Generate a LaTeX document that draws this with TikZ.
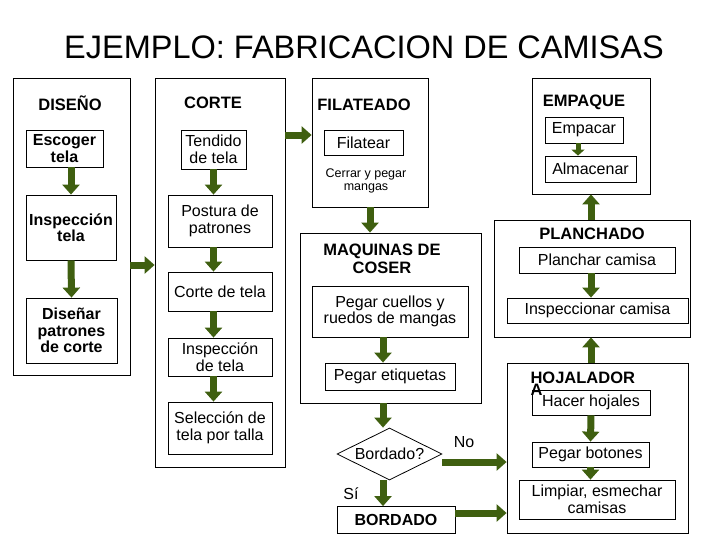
\documentclass[tikz,border=0pt]{standalone}
\usepackage{fontspec}
\setmainfont{Liberation Sans}
\usetikzlibrary{arrows.meta,shapes.geometric}
\definecolor{ag}{HTML}{3F5F10}
\begin{document}
\begin{tikzpicture}[x=1pt,y=-1pt,
  box/.style={draw,thick,align=center,inner sep=0pt,font=\fontsize{16}{16.5}\selectfont},
  bbox/.style={box,font=\bfseries\fontsize{16}{16.5}\selectfont},
  cont/.style={draw,thick,inner sep=0pt},
  lab/.style={font=\bfseries\fontsize{16.5}{18}\selectfont,align=center},
  ba/.style={draw=ag!70!black,line width=7pt,-{Triangle[width=17pt,length=10pt]},color=ag}]
\useasboundingbox (0,0) rectangle (728,546);
\node[font=\fontsize{32.5}{34}\selectfont] (title) at (364,47) {EJEMPLO: FABRICACION DE CAMISAS};
% containers
\node[cont,minimum width=117pt,minimum height=297pt] (dis) at (71.5,226.5) {};
\node[cont,minimum width=130pt,minimum height=389pt] (cor) at (220,272.5) {};
\node[cont,minimum width=116pt,minimum height=129pt] (fil) at (370,142.5) {};
\node[cont,minimum width=181pt,minimum height=170pt] (maq) at (390.5,318) {};
\node[cont,minimum width=118pt,minimum height=116pt] (emp) at (591,136) {};
\node[cont,minimum width=196pt,minimum height=117pt] (pla) at (592,278.5) {};
\node[cont,minimum width=181pt,minimum height=170pt] (hoj) at (597.5,448) {};
% labels
\node[lab] (l1) at (70,103) {DISEÑO};
\node[lab] (l2) at (213,103) {CORTE};
\node[lab] (l3) at (364,105) {FILATEADO};
\node[lab] (l4) at (382,259) {MAQUINAS DE\\COSER};
\node[lab] (l5) at (584,102) {EMPAQUE};
\node[lab] (l6) at (592,234) {PLANCHADO};
\node[lab,align=left,anchor=north west] (l7) at (527,368) {HOJALADOR\\[-6pt]A};
% DISEÑO
\node[bbox,minimum width=77pt,minimum height=37pt] (esc) at (64.5,148.5) {Escoger\\tela};
\node[bbox,minimum width=90pt,minimum height=65pt] (ins) at (71,227.5) {Inspección\\tela};
\node[bbox,minimum width=91pt,minimum height=65pt] (dsn) at (71.5,330.5) {Diseñar\\patrones\\de corte};
% CORTE
\node[box,minimum width=65pt,minimum height=39pt] (ten) at (213.5,149.5) {Tendido\\de tela};
\node[box,minimum width=104pt,minimum height=52pt] (pos) at (220,221) {Postura de\\patrones};
\node[box,minimum width=104pt,minimum height=39pt] (ctl) at (220,291.5) {Corte de tela};
\node[box,minimum width=104pt,minimum height=38pt] (ict) at (220,357) {Inspección\\de tela};
\node[box,minimum width=104pt,minimum height=52pt] (sel) at (220,428) {Selección de\\tela por talla};
% FILATEADO
\node[box,minimum width=79pt,minimum height=25pt] (flt) at (363.5,142.5) {Filatear};
\node[font=\fontsize{12.5}{13.5}\selectfont,align=center] (cer) at (366,181) {Cerrar y pegar\\mangas};
% MAQUINAS
\node[box,minimum width=156pt,minimum height=51pt] (pcu) at (390,311.5) {Pegar cuellos y\\ruedos de mangas};
\node[box,minimum width=130pt,minimum height=27pt] (pet) at (390,376.5) {Pegar etiquetas};
\node[draw,thick,diamond,aspect=2,minimum width=105pt,minimum height=52pt,inner sep=0pt,font=\fontsize{16}{16.5}\selectfont] (bor) at (389.5,454) {Bordado?};
\node[bbox,minimum width=118pt,minimum height=27pt] (brd) at (396,520) {BORDADO};
\node[font=\fontsize{16}{16.5}\selectfont] (no) at (464,442) {No};
\node[font=\fontsize{16}{16.5}\selectfont] (si) at (351,494) {Sí};
% EMPAQUE
\node[box,minimum width=78pt,minimum height=26pt] (epc) at (584,130) {Empacar};
\node[box,minimum width=91pt,minimum height=26pt] (alm) at (590.5,169) {Almacenar};
% PLANCHADO
\node[box,minimum width=156pt,minimum height=26pt] (plc) at (597,260) {Planchar camisa};
\node[box,minimum width=181pt,minimum height=25pt] (ipc) at (597.5,310.5) {Inspeccionar camisa};
% HOJALADORA
\node[box,minimum width=118pt,minimum height=25pt] (hac) at (591,402.5) {Hacer hojales};
\node[box,minimum width=117pt,minimum height=25pt] (pbt) at (590.5,454.5) {Pegar botones};
\node[box,minimum width=156pt,minimum height=39pt] (lim) at (597,499.5) {Limpiar, esmechar\\camisas};
% arrows
\draw[ba] (esc.south -| 71,0) -- (ins.north -| 71,0);
\draw[ba] (ins.south) -- (dsn.north);
\draw[ba] (dis.east |- 0,265) -- (cor.west |- 0,265);
\draw[ba] (ten.south) -- (ten.south |- pos.north);
\draw[ba] (pos.south -| ten.south) -- (ctl.north -| ten.south);
\draw[ba] (ctl.south -| ten.south) -- (ict.north -| ten.south);
\draw[ba] (ict.south -| ten.south) -- (sel.north -| ten.south);
\draw[ba] (cor.east |- 0,135) -- (fil.west |- 0,135);
\draw[ba] (fil.south) -- (fil.south |- maq.north);
\draw[ba] (pcu.south -| 383,0) -- (pet.north -| 383,0);
\draw[ba] (maq.south -| 383,0) -- (bor.north -| 383,0);
\draw[ba] (bor.south -| 383,0) -- (brd.north -| 383,0);
\draw[ba] (bor.east |- 0,462) -- (hoj.west |- 0,462);
\draw[ba] (brd.east |- 0,513) -- (hoj.west |- 0,513);
\draw[ba] (hac.south) -- (pbt.north);
\draw[ba] (pbt.south) -- (lim.north -| pbt.south);
\draw[ba] (plc.south -| 591,0) -- (ipc.north -| 591,0);
\draw[ba] (hoj.north -| 591,0) -- (pla.south -| 591,0);
\draw[ba] (pla.north -| 591,0) -- (emp.south -| 591,0);
\draw[ba,-{Triangle[width=13pt,length=6pt]},line width=5pt] (epc.south -| 578,0) -- (alm.north -| 578,0);
\end{tikzpicture}
\end{document}
